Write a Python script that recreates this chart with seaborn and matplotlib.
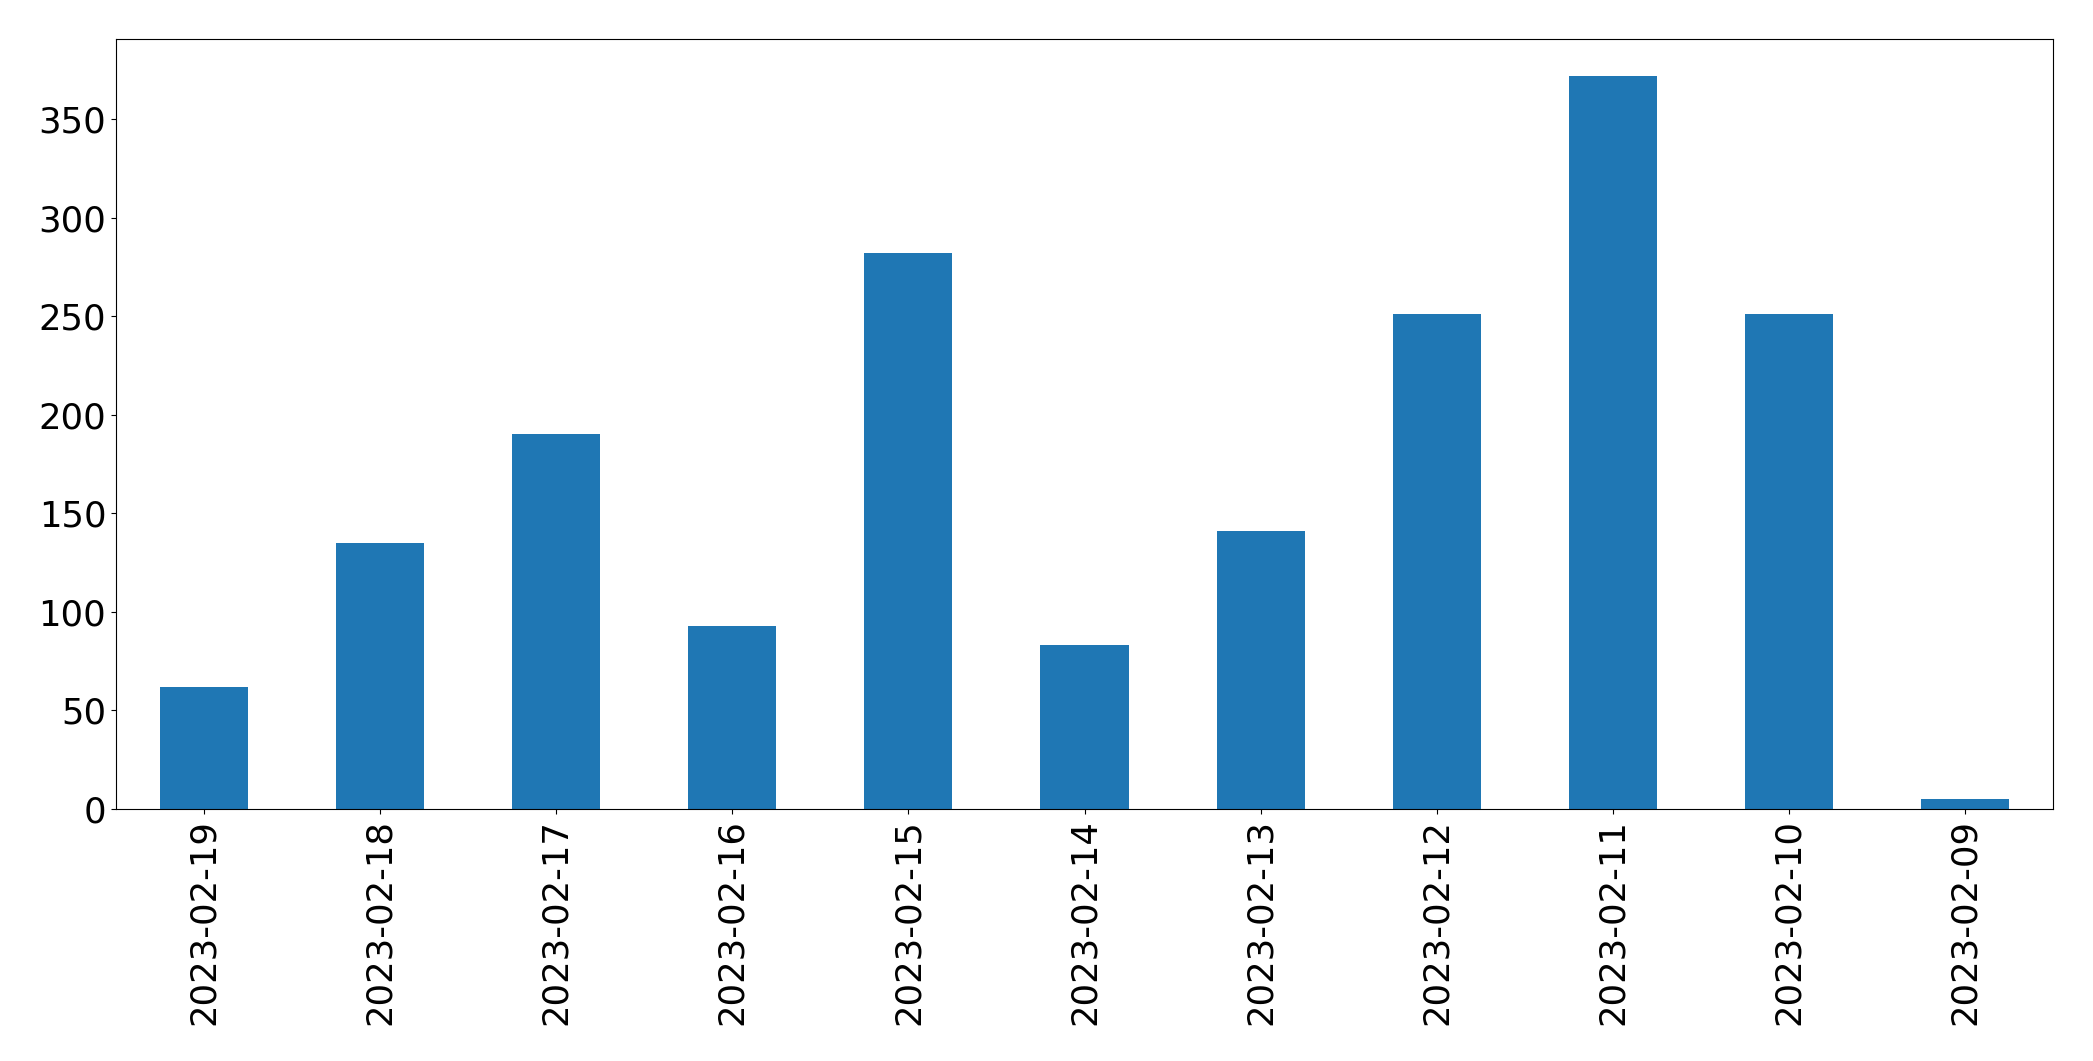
import matplotlib
matplotlib.use("Agg")
import matplotlib.pyplot as plt
import seaborn as sns
import pandas as pd

dates = ["2023-02-19", "2023-02-18", "2023-02-17", "2023-02-16", "2023-02-15",
         "2023-02-14", "2023-02-13", "2023-02-12", "2023-02-11", "2023-02-10",
         "2023-02-09"]
counts = [62, 135, 190, 93, 282, 83, 141, 251, 372, 251, 5]

df = pd.DataFrame({"date": dates, "count": counts})

plt.rcParams["font.family"] = ["DejaVu Sans"]
fig, ax = plt.subplots(figsize=(20.93, 10.61), dpi=100)
fig.subplots_adjust(left=116/2093, right=2053/2093, top=1-39/1061, bottom=1-809/1061)

sns.barplot(data=df, x="date", y="count", order=dates, color="#1f77b4",
            saturation=1, width=0.5, ax=ax)
ax.set_xlim(-0.5, len(dates) - 0.5)
ax.set_ylim(0, max(counts) * 1.05)
ax.set_xlabel("")
ax.set_ylabel("")
for s in ax.spines.values():
    s.set_color("black")
ax.tick_params(axis="both", labelsize=25.5)
ax.tick_params(axis="x", labelrotation=90)

fig.savefig("out.png", dpi=100)
